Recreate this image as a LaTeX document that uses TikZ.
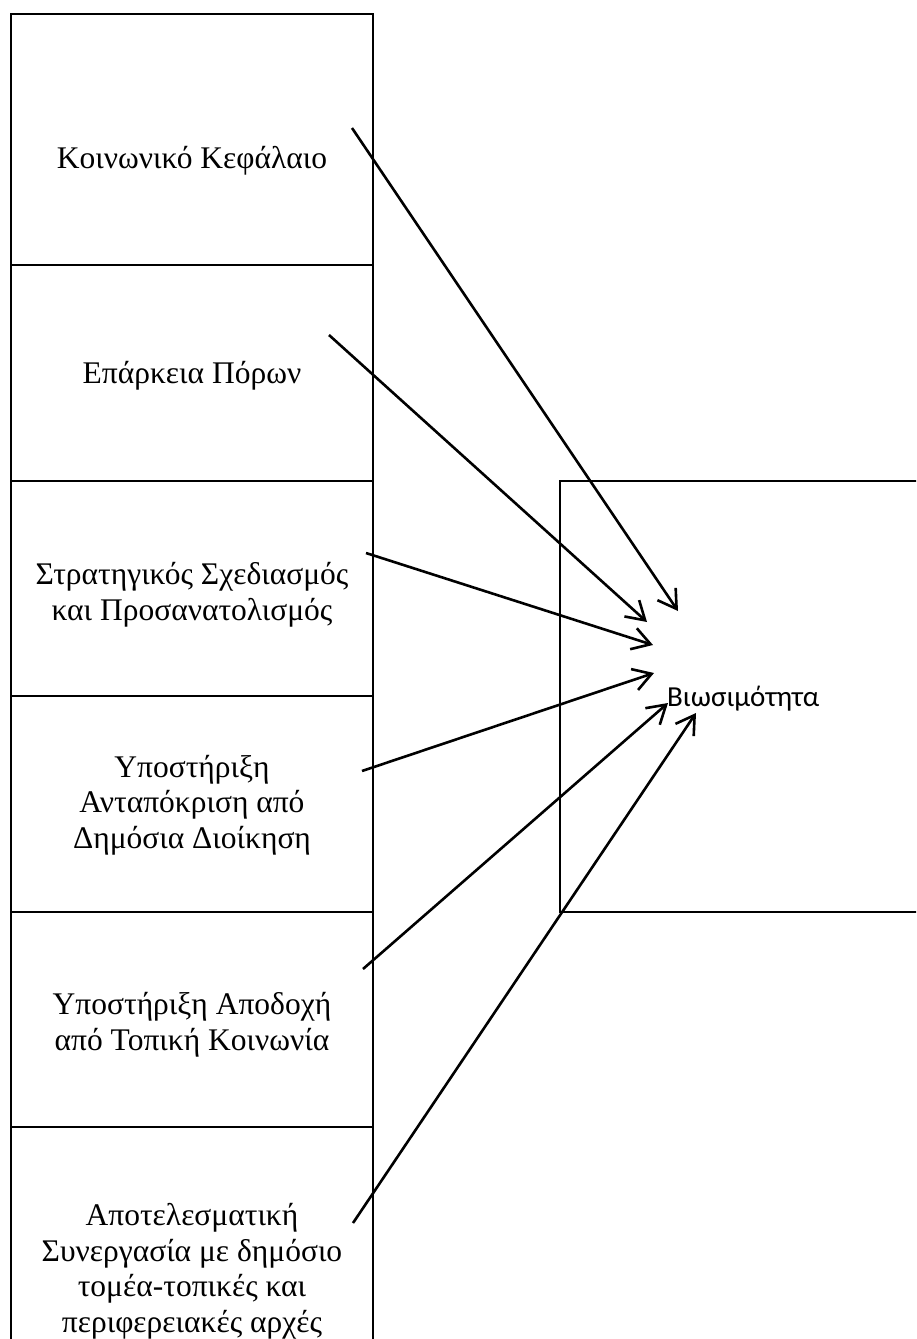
\documentclass[tikz,border=0pt]{standalone}
\usepackage{fontspec}
\setmainfont{Liberation Serif}
\newfontfamily\labelsans{Carlito}
\usetikzlibrary{arrows.meta}
\tikzset{
  colbox/.style={draw=black, line width=2pt, minimum width=362pt, inner sep=0pt},
  rightbox/.style={draw=black, line width=1.4pt},
  boxtext/.style={align=center, inner sep=0pt, anchor=base,
    font=\fontsize{31.5}{35.5}\selectfont},
  conn/.style={line width=2.6pt, -{Straight Barb[length=18pt, width=22pt, line width=2.6pt]}},
}
\begin{document}
\begin{tikzpicture}[x=1pt, y=-1pt]
\clip (0,0) rectangle (916,1339);
\fill[white] (0,0) rectangle (916,1339);
% right target box (extends past the right edge)
\draw[rightbox] (930,481) -- (560,481) -- (560,912) -- (930,912);
% left column boxes
\node[colbox, minimum height=251pt] (b1) at (192,139.5) {};
\node[colbox, minimum height=216pt] (b2) at (192,373) {};
\node[colbox, minimum height=215pt] (b3) at (192,588.5) {};
\node[colbox, minimum height=216pt] (b4) at (192,804) {};
\node[colbox, minimum height=215pt] (b5) at (192,1019.5) {};
\node[colbox, minimum height=240pt] (b6) at (192,1247) {};
% texts (anchor = baseline of the last line)
\node[boxtext] (t1) at (192,168) {Κοινωνικό Κεφάλαιο};
\node[boxtext] (t2) at (192,383) {Επάρκεια Πόρων};
\node[boxtext] (t3) at (192,620) {Στρατηγικός Σχεδιασμός\\και Προσανατολισμός};
\node[boxtext] (t4) at (192,848) {Υποστήριξη\\Ανταπόκριση από\\Δημόσια Διοίκηση};
\node[boxtext] (t5) at (192,1050) {Υποστήριξη Αποδοχή\\από Τοπική Κοινωνία};
\node[boxtext] (t6) at (192,1332) {Αποτελεσματική\\Συνεργασία με δημόσιο\\τομέα-τοπικές και\\περιφερειακές αρχές};
\node[anchor=base west, inner sep=0pt, font=\labelsans\fontsize{29}{34}\selectfont] (target) at (667,706) {Βιωσιμότητα};
% connector ends
\coordinate (s1) at (352,128);  \coordinate (e1) at (678,611);
\coordinate (s2) at (329,335);  \coordinate (e2) at (647,622);
\coordinate (s3) at (366,553);  \coordinate (e3) at (653,645);
\coordinate (s4) at (362,771);  \coordinate (e4) at (654,673);
\coordinate (s5) at (363,969);  \coordinate (e5) at (668,703);
\coordinate (s6) at (353,1223); \coordinate (e6) at (696,713);
\draw[conn] (s1) -- (e1);
\draw[conn] (s2) -- (e2);
\draw[conn] (s3) -- (e3);
\draw[conn] (s4) -- (e4);
\draw[conn] (s5) -- (e5);
\draw[conn] (s6) -- (e6);
\end{tikzpicture}
\end{document}
